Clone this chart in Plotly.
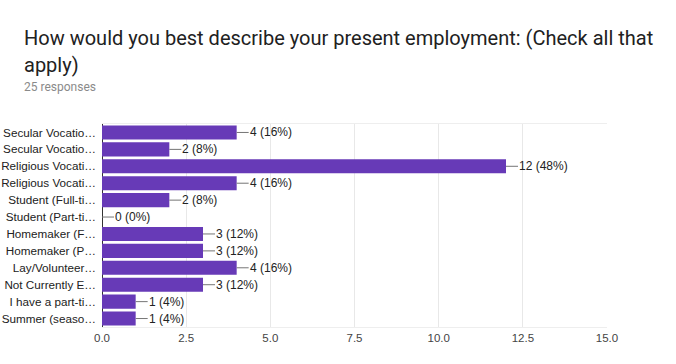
import plotly.graph_objects as go

categories = ["Secular Vocatio…", "Secular Vocatio…", "Religious Vocati…", "Religious Vocati…",
              "Student (Full-ti…", "Student (Part-ti…", "Homemaker (F…", "Homemaker (P…",
              "Lay/Volunteer…", "Not Currently E…", "I have a part-ti…", "Summer (seaso…"]
values = [4, 2, 12, 4, 2, 0, 3, 3, 4, 3, 1, 1]
total_responses = 25
x_ticks = [0, 2.5, 5, 7.5, 10, 12.5, 15]
title_lines = ["How would you best describe your present employment: (Check all that", "apply)"]
subtitle = "25 responses"

ids = list(range(len(categories)))
labels = [f"{v} ({round(v / total_responses * 100)}%)" for v in values]

L, R, T, B = 102, 607, 124, 327
W, H = 676, 364
pw, ph = R - L, B - T


def px_x(px):
    return (px - L) / pw


def px_y(py):
    return (B - py) / ph


fig = go.Figure()
fig.add_trace(go.Bar(x=values, y=ids, orientation="h", marker_color="#673AB7",
                     marker_line_width=0, hoverinfo="skip"))

for i, v, lab in zip(ids, values, labels):
    fig.add_annotation(x=v, y=i, xref="x", yref="y", text=lab, showarrow=True,
                       arrowhead=0, arrowwidth=1, arrowcolor="#757575", ax=12, ay=0,
                       xanchor="left", font=dict(family="Arial, Liberation Sans", size=12, color="#222222"),
                       standoff=0, borderpad=0)

for line, cy in zip(title_lines, [38, 65]):
    fig.add_annotation(text=line, xref="paper", yref="paper", x=px_x(22), y=px_y(cy),
                       xanchor="left", yanchor="middle", showarrow=False,
                       font=dict(family="Roboto", size=20, color="#212121"))

fig.add_annotation(text=subtitle, xref="paper", yref="paper", x=px_x(22), y=px_y(87),
                   xanchor="left", yanchor="middle", showarrow=False,
                   font=dict(family="Roboto", size=12, color="#8a8a8a"))

fig.update_layout(
    width=W, height=H,
    margin=dict(l=L, r=W - R, t=T, b=H - B, autoexpand=False),
    paper_bgcolor="white", plot_bgcolor="white",
    bargap=0.17,
    showlegend=False,
    xaxis=dict(range=[0, 15], tickvals=x_ticks, tickformat=".1f", showgrid=True,
               gridcolor="#e8e8e8", gridwidth=1, zeroline=True, zerolinecolor="#333333",
               zerolinewidth=1, showline=True, linecolor="#eeeeee", mirror=True,
               automargin=False,
               tickfont=dict(family="Arial, Liberation Sans", size=11.5, color="#444444"),
               fixedrange=True),
    yaxis=dict(tickvals=ids, ticktext=categories, autorange="reversed", showgrid=False,
               zeroline=False, showline=False, ticklabelstandoff=5, automargin=False,
               tickfont=dict(family="Arial, Liberation Sans", size=11.7, color="#222222"),
               fixedrange=True),
)

fig.write_html("out.html", config={"displayModeBar": False},
               post_script="document.body.style.margin='0';")
